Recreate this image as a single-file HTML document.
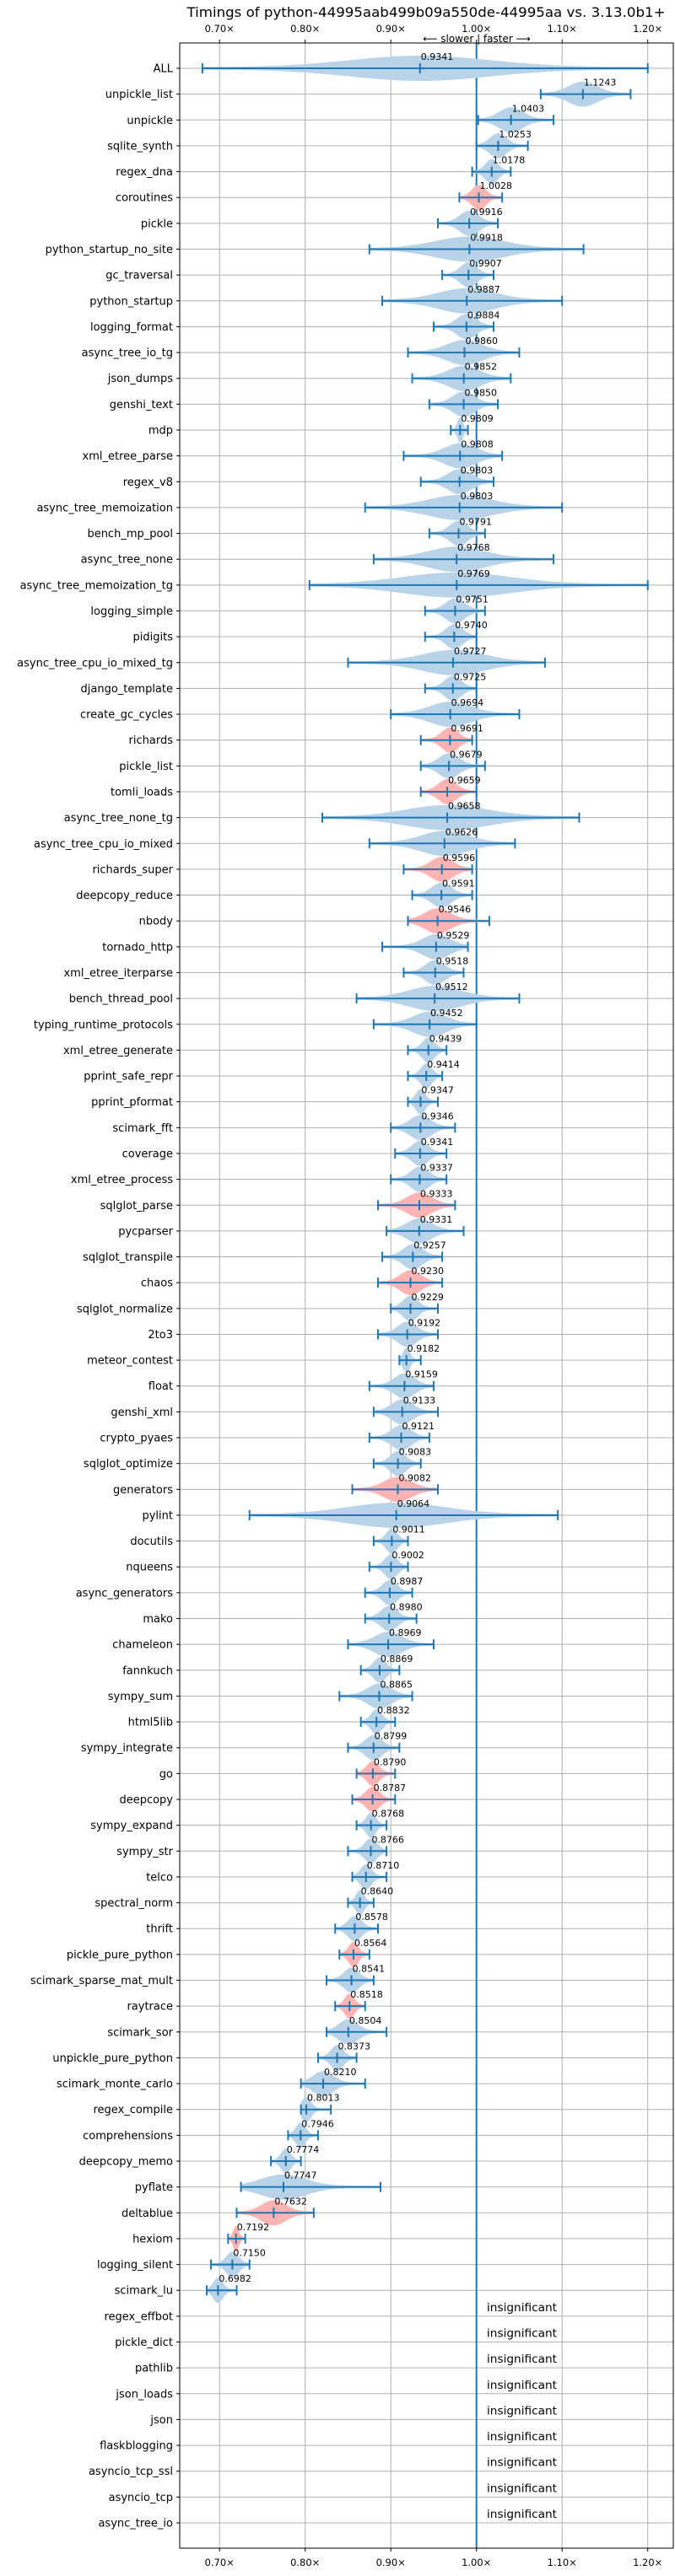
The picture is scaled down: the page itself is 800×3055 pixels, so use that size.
<!DOCTYPE html>
<html><head><meta charset="utf-8"><style>
html,body{margin:0;padding:0;background:#fff;}
svg text{font-family:"DejaVu Sans","Liberation Sans",sans-serif;}
</style></head><body>
<svg id="chart" width="800" height="3050" viewBox="0 0 800 3050" xmlns="http://www.w3.org/2000/svg"></svg>
<script>
const names = ["ALL","unpickle_list","unpickle","sqlite_synth","regex_dna","coroutines","pickle","python_startup_no_site","gc_traversal","python_startup","logging_format","async_tree_io_tg","json_dumps","genshi_text","mdp","xml_etree_parse","regex_v8","async_tree_memoization","bench_mp_pool","async_tree_none","async_tree_memoization_tg","logging_simple","pidigits","async_tree_cpu_io_mixed_tg","django_template","create_gc_cycles","richards","pickle_list","tomli_loads","async_tree_none_tg","async_tree_cpu_io_mixed","richards_super","deepcopy_reduce","nbody","tornado_http","xml_etree_iterparse","bench_thread_pool","typing_runtime_protocols","xml_etree_generate","pprint_safe_repr","pprint_pformat","scimark_fft","coverage","xml_etree_process","sqlglot_parse","pycparser","sqlglot_transpile","chaos","sqlglot_normalize","2to3","meteor_contest","float","genshi_xml","crypto_pyaes","sqlglot_optimize","generators","pylint","docutils","nqueens","async_generators","mako","chameleon","fannkuch","sympy_sum","html5lib","sympy_integrate","go","deepcopy","sympy_expand","sympy_str","telco","spectral_norm","thrift","pickle_pure_python","scimark_sparse_mat_mult","raytrace","scimark_sor","unpickle_pure_python","scimark_monte_carlo","regex_compile","comprehensions","deepcopy_memo","pyflate","deltablue","hexiom","logging_silent","scimark_lu","regex_effbot","pickle_dict","pathlib","json_loads","json","flaskblogging","asyncio_tcp_ssl","asyncio_tcp","async_tree_io"];
const medians = [0.9341,1.1243,1.0403,1.0253,1.0178,1.0028,0.9916,0.9918,0.9907,0.9887,0.9884,0.9860,0.9852,0.9850,0.9809,0.9808,0.9803,0.9803,0.9791,0.9768,0.9769,0.9751,0.9740,0.9727,0.9725,0.9694,0.9691,0.9679,0.9659,0.9658,0.9626,0.9596,0.9591,0.9546,0.9529,0.9518,0.9512,0.9452,0.9439,0.9414,0.9347,0.9346,0.9341,0.9337,0.9333,0.9331,0.9257,0.9230,0.9229,0.9192,0.9182,0.9159,0.9133,0.9121,0.9083,0.9082,0.9064,0.9011,0.9002,0.8987,0.8980,0.8969,0.8869,0.8865,0.8832,0.8799,0.8790,0.8787,0.8768,0.8766,0.8710,0.8640,0.8578,0.8564,0.8541,0.8518,0.8504,0.8373,0.8210,0.8013,0.7946,0.7774,0.7747,0.7632,0.7192,0.7150,0.6982,null,null,null,null,null,null,null,null,null];
const mins = [0.68,1.075,1.002,1.0,0.995,0.98,0.955,0.875,0.96,0.89,0.95,0.92,0.925,0.945,0.97,0.915,0.935,0.87,0.945,0.88,0.805,0.94,0.94,0.85,0.94,0.90,0.935,0.935,0.935,0.82,0.875,0.915,0.925,0.92,0.89,0.915,0.86,0.88,0.92,0.92,0.92,0.90,0.905,0.90,0.885,0.895,0.89,0.885,0.90,0.885,0.91,0.875,0.88,0.875,0.88,0.855,0.735,0.88,0.875,0.87,0.87,0.85,0.865,0.84,0.865,0.85,0.86,0.855,0.86,0.85,0.855,0.85,0.835,0.84,0.825,0.835,0.825,0.815,0.795,0.795,0.78,0.76,0.725,0.72,0.71,0.69,0.685];
const maxs = [1.20,1.18,1.09,1.06,1.04,1.03,1.025,1.125,1.02,1.10,1.02,1.05,1.04,1.025,0.99,1.03,1.02,1.10,1.01,1.09,1.20,1.01,1.0,1.08,1.0,1.05,0.995,1.01,1.0,1.12,1.045,0.995,0.995,1.015,0.99,0.985,1.05,1.0,0.965,0.96,0.955,0.975,0.965,0.965,0.975,0.985,0.96,0.96,0.955,0.955,0.935,0.95,0.955,0.945,0.935,0.955,1.095,0.92,0.92,0.925,0.93,0.95,0.91,0.925,0.905,0.91,0.905,0.905,0.895,0.895,0.895,0.88,0.885,0.875,0.88,0.87,0.895,0.86,0.87,0.83,0.815,0.795,0.888,0.81,0.73,0.735,0.72];
const redRows = ["coroutines","richards","tomli_loads","richards_super","nbody","sqlglot_parse","chaos","generators","go","deepcopy","pickle_pure_python","raytrace","deltablue","hexiom"];
const xTicks = [0.70,0.80,0.90,1.00,1.10,1.20];
const xTickLabels = ["0.70×","0.80×","0.90×","1.00×","1.10×","1.20×"];

const NS = "http://www.w3.org/2000/svg";
const svg = document.getElementById("chart");
const L = 213, R = 798, T = 51, B = 3022;
const y0 = 81, rowStep = (2992 - 81) / 95;
function xs(v){ return 564.7 + (v - 1) * 1015; }
function ys(i){ return y0 + i * rowStep; }
function mk(tag, attrs, parent){
  const e = document.createElementNS(NS, tag);
  for (const k in attrs) e.setAttribute(k, attrs[k]);
  (parent || svg).appendChild(e);
  return e;
}
let t = mk("text",{x:505,y:20,"text-anchor":"middle","font-size":"16",textLength:"567",lengthAdjust:"spacingAndGlyphs"});
t.textContent = "Timings of python-44995aab499b09a550de-44995aa vs. 3.13.0b1+";


t = mk("text",{x:565,y:50,"text-anchor":"middle","font-size":"12"});
t.textContent = "⟵ slower | faster ⟶";


const grid = mk("g",{stroke:"#b0b0b0","stroke-width":"1"});


xTicks.forEach((v,i)=>{
  const x = xs(v);
  mk("line",{x1:x,x2:x,y1:T,y2:B},grid);
  let a = mk("text",{x:x,y:38,"text-anchor":"middle","font-size":"11.5",fill:"#000",stroke:"none"});
  a.textContent = xTickLabels[i];
  
  
  let b = mk("text",{x:x,y:3043,"text-anchor":"middle","font-size":"11.5",fill:"#000",stroke:"none"});
  b.textContent = xTickLabels[i];
  
  
  mk("line",{x1:x,x2:x,y1:T-4,y2:T,stroke:"#000"});
  mk("line",{x1:x,x2:x,y1:B,y2:B+4,stroke:"#000"});
});
names.forEach((n,i)=>{
  const y = ys(i);
  mk("line",{x1:L,x2:R,y1:y,y2:y},grid);
  mk("line",{x1:L-4,x2:L,y1:y,y2:y,stroke:"#000"});
  const lab = mk("text",{x:L-8,y:y+4.5,"text-anchor":"end","font-size":"13"});
  lab.textContent = n;
  
  
});
const base = mk("line",{x1:xs(1),x2:xs(1),y1:T,y2:B,stroke:"#1f77b4","stroke-width":"2"});


names.forEach((n,i)=>{
  const y = ys(i), med = medians[i];
  if (med === null){
    const s = mk("text",{x:577,y:y-6,"font-size":"13",textLength:"83",lengthAdjust:"spacingAndGlyphs"});
    s.textContent = "insignificant";
    
    
    return;
  }
  const lo = mins[i], hi = maxs[i];
  const g = mk("g",{});
  
  
  const red = redRows.includes(n);
  const sig = (hi - lo) / 4.5;
  let top = [], bot = [];
  const N = 40;
  for (let k=0;k<=N;k++){
    const v = lo + (hi-lo)*k/N;
    const h = 1.5 + 13.5*Math.exp(-Math.pow((v-med)/sig,2));
    top.push(xs(v).toFixed(1)+","+(y-h).toFixed(1));
    bot.unshift(xs(v).toFixed(1)+","+(y+h).toFixed(1));
  }
  mk("polygon",{points:top.concat(bot).join(" "),fill:red?"#ffb3b3":"#b9d3e9"},g);
  const st = {stroke:"#1f77b4","stroke-width":"2"};
  mk("line",Object.assign({x1:xs(lo),x2:xs(hi),y1:y,y2:y},st),g);
  mk("line",Object.assign({x1:xs(lo),x2:xs(lo),y1:y-6,y2:y+6},st),g);
  mk("line",Object.assign({x1:xs(hi),x2:xs(hi),y1:y-6,y2:y+6},st),g);
  mk("line",Object.assign({x1:xs(med),x2:xs(med),y1:y-6,y2:y+6},st),g);
  const vt = mk("text",{x:xs(med)+1,y:y-10,"font-size":"11"},g);
  vt.textContent = med.toFixed(4);
  
  
});
const fr = mk("rect",{x:L,y:T,width:R-L,height:B-T,fill:"none",stroke:"#000","stroke-width":"1"});


</script>
</body></html>
